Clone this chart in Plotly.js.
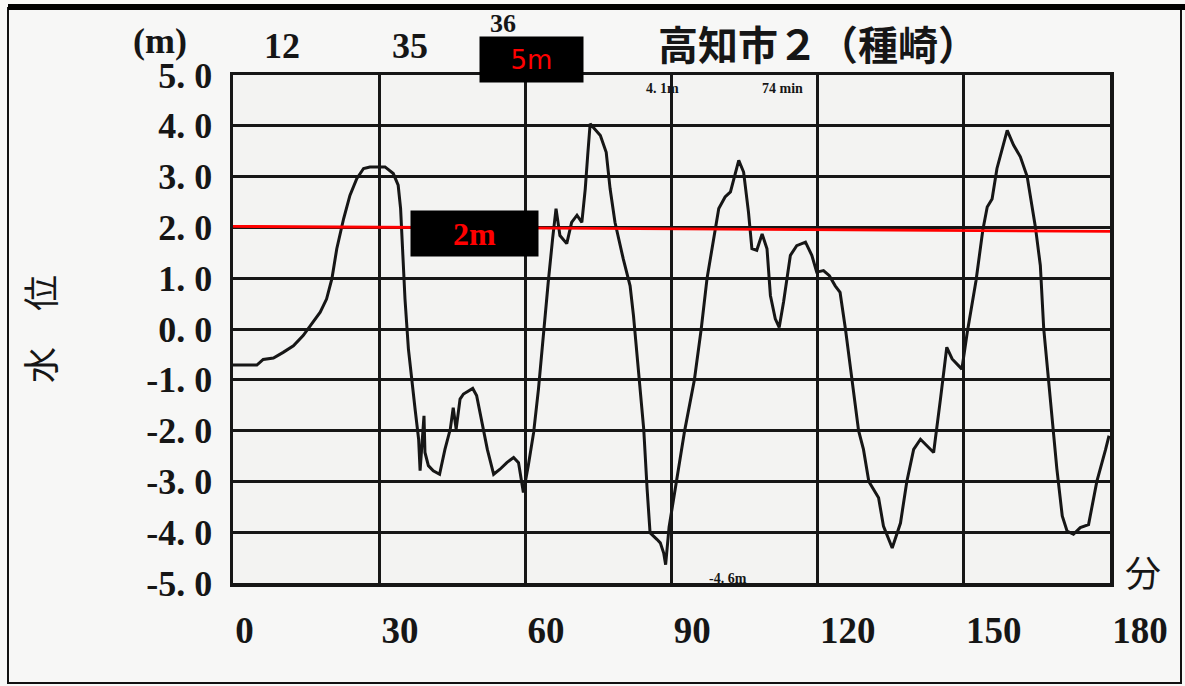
<!DOCTYPE html>
<html>
<head>
<meta charset="utf-8">
<script src="https://cdn.plot.ly/plotly-3.0.1.min.js"></script>
<style>html,body{margin:0;padding:0;background:#fff;}#chart{width:1185px;height:686px;}</style>
</head>
<body>
<div id="chart"></div>
<script>
// elapsed time (minutes)
const minutes = [0,4.9,6.2,8.3,10.3,12.4,14.4,16.2,17.9,19.2,20.3,21.3,22.7,24.0,25.4,26.8,28.1,31.2,32.9,33.9,34.4,34.8,35.3,36.0,36.7,37.4,38.1,38.4,39.2,39.4,40.1,41.1,42.4,43.5,44.6,45.2,45.8,46.6,47.3,49.2,50.0,51.1,52.2,53.5,54.8,56.2,57.6,58.6,59.6,60.6,61.7,62.7,63.7,64.7,65.6,66.3,67.1,68.5,69.5,70.6,71.6,72.3,72.8,73.3,75.4,76.6,77.4,78.4,80.1,81.5,82.2,83.2,84.3,85.0,85.6,87.0,87.7,88.4,88.8,89.5,91.0,92.7,94.7,96.1,97.3,99.0,99.7,101.0,102.1,103.8,104.8,105.8,106.5,107.5,108.6,109.6,110.3,111.3,112.1,113.0,114.4,115.7,117.5,118.8,119.8,121.2,122.4,123.6,124.6,125.7,127.0,128.4,129.4,130.5,132.5,133.5,135.3,137.0,138.3,139.7,141.1,142.4,143.8,145.2,146.5,147.6,149.6,150.7,152.5,153.9,154.8,155.8,156.8,158.9,160.2,161.6,163.0,164.7,165.7,166.4,167.4,168.4,169.1,170.2,171.2,172.5,173.9,175.6,177.3,179.1,179.8];
// water level (m)
const waterLevel = [-0.71,-0.71,-0.6,-0.57,-0.46,-0.33,-0.13,0.1,0.33,0.59,0.99,1.58,2.17,2.63,2.96,3.16,3.19,3.19,3.06,2.83,2.37,1.58,0.59,-0.39,-1.05,-1.6,-2.17,-2.79,-1.71,-2.43,-2.69,-2.79,-2.86,-2.37,-1.97,-1.55,-1.97,-1.38,-1.28,-1.17,-1.31,-1.84,-2.37,-2.86,-2.76,-2.63,-2.53,-2.63,-3.22,-2.69,-2.04,-1.18,-0.07,0.92,1.78,2.37,1.84,1.68,2.10,2.24,2.10,2.76,3.42,4.04,3.81,3.48,2.76,2.10,1.38,0.85,0.26,-0.85,-1.97,-3.16,-4.01,-4.14,-4.21,-4.41,-4.64,-3.9,-3.0,-2.0,-1.0,0.0,1.0,2.0,2.37,2.6,2.7,3.32,3.09,2.30,1.58,1.55,1.87,1.58,0.66,0.20,0.03,0.53,1.45,1.64,1.71,1.45,1.12,1.15,1.05,0.85,0.72,0,-1,-2,-2.37,-3,-3.32,-3.88,-4.31,-3.82,-3,-2.37,-2.17,-2.30,-2.43,-1.38,-0.36,-0.59,-0.79,-0.07,0.95,1.95,2.4,2.56,3.16,3.91,3.62,3.39,3.0,2.0,1.25,0,-1,-2,-2.76,-3.68,-3.98,-4.04,-3.91,-3.85,-3.0,-2.37,-2.1];
// 2 m reference line (as drawn, slightly tilted)
const refMinutes = [0, 180];
const refLevel = [2.02, 1.92];
// tick labels
const xTickVals = [0,30,60,90,120,150,180];
const xTickText = ["0","30","60","90","120","150","180"];
const yTickVals = [5,4,3,2,1,0,-1,-2,-3,-4,-5];
const yTickText = ["5. 0","4. 0","3. 0","2. 0","1. 0","0. 0","-1. 0","-2. 0","-3. 0","-4. 0","-5. 0"];

// pixel -> paper helper for annotations
const L = 233, R = 1110, T = 75, B = 583;
const px = x => (x - L) / (R - L);
const py = y => (B - y) / (B - T);
const serif = "Liberation Serif";
const cjk = "Noto Sans CJK JP";
const ink = '#161616';

const traces = [
  {x: minutes, y: waterLevel, type: 'scatter', mode: 'lines',
   line: {color: ink, width: 3}, hoverinfo: 'skip', showlegend: false},
  {x: refMinutes, y: refLevel, type: 'scatter', mode: 'lines',
   line: {color: '#ff0000', width: 2.8}, hoverinfo: 'skip', showlegend: false}
];

const ann = (text, x, y, font, extra) => Object.assign({
  text: text, xref: 'paper', yref: 'paper', x: px(x), y: py(y),
  xanchor: 'center', yanchor: 'middle', showarrow: false, font: font
}, extra || {});

const layout = {
  width: 1185, height: 686,
  margin: {l: L, r: 1185 - R, t: T, b: 686 - B, pad: 0},
  paper_bgcolor: '#f7f7f6', plot_bgcolor: '#f3f3f2',
  title: {text: '高知市２（種崎）', x: 818/1185, xanchor: 'center', y: 1 - 46/686, yanchor: 'middle',
          font: {family: cjk, size: 40, color: ink, weight: 'bold'}},
  xaxis: {range: [0, 180], tickmode: 'array', tickvals: xTickVals, ticktext: xTickText,
          ticklabelposition: 'outside right', ticklabelstandoff: 12,
          ticks: 'outside', ticklen: 20, tickcolor: 'rgba(0,0,0,0)',
          showgrid: true, gridcolor: ink, gridwidth: 3, zeroline: false,
          showline: true, linecolor: ink, linewidth: 3.5, mirror: true,
          tickfont: {family: serif, size: 37, color: ink, weight: 'bold'}, fixedrange: true},
  yaxis: {range: [-5, 5], tickmode: 'array', tickvals: yTickVals, ticktext: yTickText,
          ticks: 'outside', ticklen: 10, tickcolor: 'rgba(0,0,0,0)',
          showgrid: true, gridcolor: ink, gridwidth: 3, zeroline: false,
          showline: true, linecolor: ink, linewidth: 3.5, mirror: true,
          tickfont: {family: serif, size: 36, color: ink, weight: 'bold'},
          title: {text: '水　位', font: {family: cjk, size: 36, color: ink}, standoff: 80},
          fixedrange: true},
  shapes: [
    {type: 'rect', xref: 'paper', yref: 'paper', x0: px(8), x1: px(1181), y0: py(683), y1: py(8),
     line: {color: '#111', width: 2}, fillcolor: 'rgba(0,0,0,0)', layer: 'below'},
    {type: 'line', xref: 'paper', yref: 'paper', x0: px(8), x1: px(1185), y0: py(7), y1: py(7),
     line: {color: '#000', width: 6}}
  ],
  annotations: [
    ann('(m)', 160, 41, {family: serif, size: 36, color: ink, weight: 'bold'}),
    ann('12', 282, 46, {family: serif, size: 36, color: ink, weight: 'bold'}),
    ann('35', 410, 46, {family: serif, size: 36, color: ink, weight: 'bold'}),
    ann('36', 503, 24, {family: serif, size: 26, color: ink, weight: 'bold'}),
    ann('5m', 531.5, 59.5, {family: 'DejaVu Sans', size: 26, color: '#ff0000'},
        {bgcolor: '#000', width: 103, height: 45, borderpad: 0}),
    ann('4. 1m', 662, 89, {family: serif, size: 14, color: ink, weight: 'bold'}),
    ann('74 min', 782, 89, {family: serif, size: 14, color: ink, weight: 'bold'}),
    ann('2m', 474.5, 233.5, {family: serif, size: 32, color: '#ff0000', weight: 'bold'},
        {bgcolor: '#000', width: 127, height: 45, borderpad: 0}),
    ann('-4. 6m', 728, 578, {family: serif, size: 14, color: ink, weight: 'bold'}),
    ann('分', 1143, 571, {family: cjk, size: 36, color: ink})
  ]
};

Plotly.newPlot('chart', traces, layout, {displayModeBar: false, staticPlot: true});
</script>
</body>
</html>
